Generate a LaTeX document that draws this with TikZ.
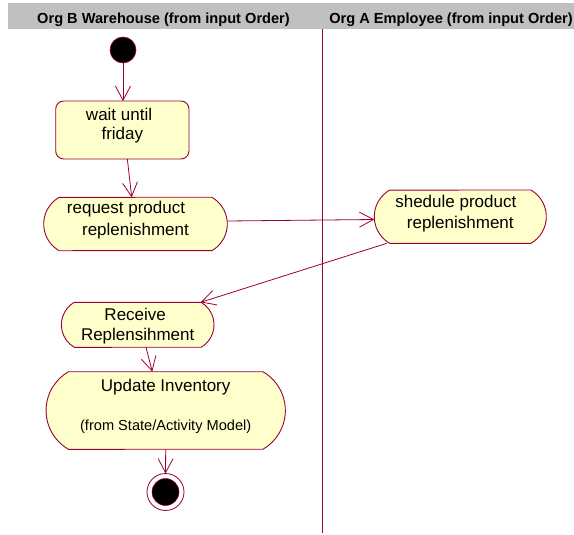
\documentclass[tikz,border=0pt]{standalone}
\usepackage{fontspec}
\setmainfont{Liberation Sans}
\usetikzlibrary{arrows.meta,shapes.misc}
\definecolor{umlred}{RGB}{153,0,51}
\definecolor{umlfill}{RGB}{255,255,204}
\definecolor{hdrgray}{RGB}{192,192,192}
\begin{document}
\begin{tikzpicture}[x=1pt,y=-1pt,
  every node/.style={inner sep=2pt, outer sep=0pt},
  act/.style={rounded rectangle, rounded rectangle arc length=120, draw=umlred, fill=umlfill, line width=0.9pt, align=center, font=\fontsize{17}{20}\selectfont, text=black},
  waitbox/.style={rectangle, rounded corners=8pt, draw=umlred, fill=umlfill, line width=0.9pt, align=center, font=\fontsize{17}{20}\selectfont, text=black},
  flow/.style={draw=umlred, line width=0.8pt, -{Straight Barb[length=14pt,width=15pt]}},
  hdr/.style={font=\fontsize{14.6}{17}\selectfont\bfseries, anchor=base, inner sep=0pt}
]
\useasboundingbox (0,0) rectangle (574,535);
\fill[hdrgray] (8,3) rectangle (574,29.5);
\node[hdr] (hB) at (163.5,23.5) {Org B Warehouse (from input Order)};
\node[hdr] (hA) at (451,23.5) {Org A Employee (from input Order)};
\draw[umlred, line width=0.8pt] (322.7,29.5) -- (322.7,533);

\node[circle, fill=black, draw=umlred, line width=0.6pt, minimum size=26pt, inner sep=0pt] (start) at (123,50) {};
\node[waitbox, minimum width=133.3pt, minimum height=58pt, text height=28pt, text depth=8pt] (wait) at (122.35,130) {wait until\rule{6.6pt}{0pt}\\friday};
\node[act, minimum width=187.6pt, minimum height=53.4pt, text height=30pt, text depth=8pt, font=\fontsize{17}{21}\selectfont] (req) at (135.5,224) {request product\rule{19pt}{0pt}\\replenishment};
\node[act, minimum width=176pt, minimum height=53.3pt, text height=31.2pt, text depth=8pt, font=\fontsize{17}{21.3}\selectfont] (shed) at (460.3,216.7) {shedule product\rule{9pt}{0pt}\\replenishment};
\node[act, minimum width=156.7pt, minimum height=45pt, text height=33pt, text depth=1.2pt] (recv) at (137.7,324.8) {Receive\rule{5pt}{0pt}\\Replensihment};
\node[act, minimum width=243.3pt, minimum height=77.6pt, text height=45pt, text depth=6pt] (upd) at (165.7,410.5) {Update Inventory\\[19pt]{\fontsize{14.6}{20}\selectfont (from State/Activity Model)}};
\node[circle, draw=umlred, fill=white, line width=0.8pt, minimum size=37pt, inner sep=0pt] (fin) at (165.5,492) {};
\node[circle, fill=black, draw=umlred, line width=0.5pt, minimum size=27pt, inner sep=0pt] (finin) at (fin.center) {};

\draw[flow] (start) -- (start.center |- wait.north);
\draw[flow] ([xshift=5pt]wait.south) -- ([xshift=-3.8pt]req.north);
\draw[flow] ([yshift=3pt]req.east) -- ([yshift=-2.8pt]shed.west);
\draw[flow] ([xshift=-73.6pt]shed.south) -- ([xshift=63pt]recv.north);
\draw[flow] ([xshift=8.3pt]recv.south) -- ([xshift=-13.4pt]upd.north);
\draw[flow] (upd.south) -- (fin.north);
\end{tikzpicture}
\end{document}
